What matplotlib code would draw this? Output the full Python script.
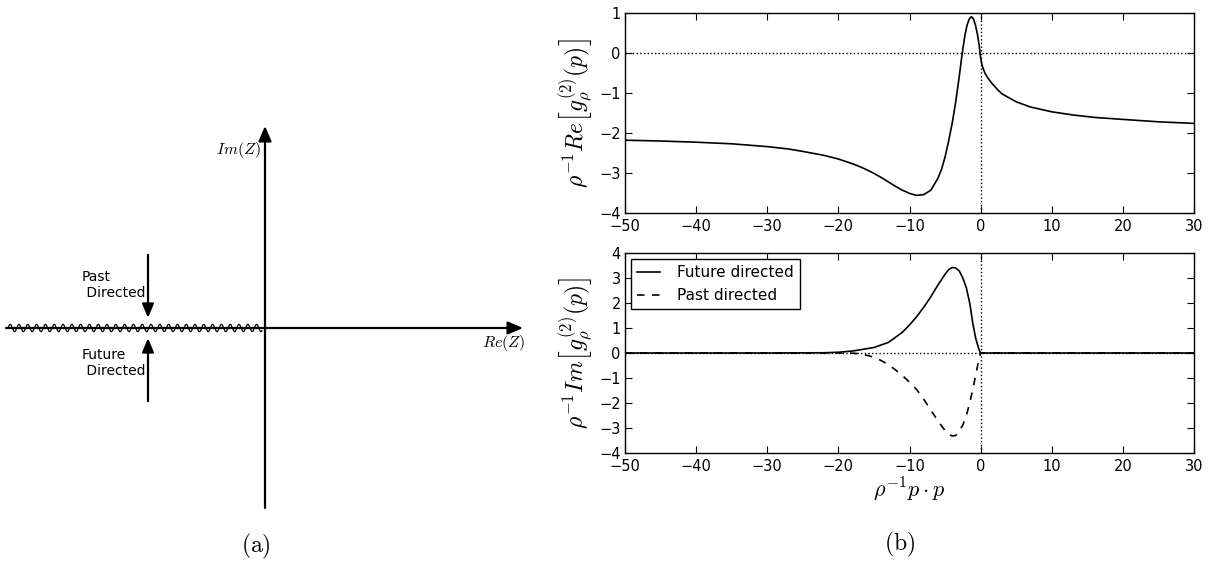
import numpy as np
import matplotlib
matplotlib.use("Agg")
import matplotlib.pyplot as plt

plt.rcParams["mathtext.fontset"] = "cm"
plt.rcParams["font.size"] = 10.5

# rho^-1 Re[g^(2)](p) against rho^-1 p.p
re_x = [-50, -45, -40, -35, -30, -27, -25, -22, -20, -18, -17, -16, -15, -14,
        -13, -12, -11, -10, -9, -8, -7, -6, -5.5, -5, -4.5, -4, -3.5, -3,
        -2.6, -2.2, -1.9, -1.6, -1.3, -1.0, -0.7, -0.4, -0.2, 0, 0.15, 0.3,
        0.6, 1.0, 1.5, 2.4, 3, 4.2, 5, 7, 10, 13, 16, 20, 25, 30]
re_y = [-2.18, -2.20, -2.23, -2.27, -2.34, -2.40, -2.46, -2.56, -2.65, -2.77,
        -2.84, -2.92, -3.01, -3.11, -3.22, -3.33, -3.43, -3.51, -3.56, -3.54,
        -3.43, -3.13, -2.91, -2.60, -2.20, -1.76, -1.22, -0.58, -0.02, 0.45,
        0.70, 0.85, 0.91, 0.85, 0.68, 0.42, 0.18, -0.12, -0.26, -0.36, -0.50,
        -0.62, -0.74, -0.92, -1.02, -1.14, -1.22, -1.35, -1.47, -1.55, -1.61,
        -1.66, -1.72, -1.76]

# rho^-1 Im[g^(2)](p), future directed
fut_x = [-50, -40, -30, -22, -20, -18, -16.9, -15, -14.5, -13, -12.1, -11, -10,
         -9, -8, -7, -6, -5, -4.5, -4, -3.5, -3, -2.5, -2, -1.5, -1.1, -0.7,
         -0.37, -0.15, 0, 10, 20, 30]
fut_y = [0, 0, 0, 0.01, 0.03, 0.08, 0.13, 0.22, 0.27, 0.42, 0.60, 0.83, 1.12,
         1.45, 1.83, 2.25, 2.72, 3.15, 3.33, 3.42, 3.40, 3.28, 3.00, 2.60,
         1.95, 1.19, 0.60, 0.27, 0.08, 0, 0, 0, 0]

# rho^-1 Im[g^(2)](p), past directed
past_x = [-50, -40, -30, -22, -20, -18, -17, -16, -15, -14, -13, -12, -11, -10,
          -9, -8, -7, -6, -5, -4.5, -4, -3.5, -3, -2.5, -2, -1.5, -1, -0.6,
          -0.3, 0, 10, 20, 30]
past_y = [0, 0, 0, 0, 0, -0.01, -0.03, -0.09, -0.17, -0.30, -0.46, -0.67,
          -0.90, -1.17, -1.46, -1.85, -2.28, -2.72, -3.10, -3.25, -3.32, -3.30,
          -3.12, -2.88, -2.50, -1.95, -1.32, -0.75, -0.33, 0, 0, 0, 0]

x_ticks = [-50, -40, -30, -20, -10, 0, 10, 20, 30]
re_ticks = [-4, -3, -2, -1, 0, 1]
im_ticks = [-4, -3, -2, -1, 0, 1, 2, 3, 4]

W, H = 1217, 564
fig = plt.figure(figsize=(W / 100, H / 100), dpi=100)

# --- (a): complex Z plane sketch, drawn in pixel units ---
ax_d = fig.add_axes([0, 0, 1, 1], facecolor="none")
ax_d.set_xlim(0, W)
ax_d.set_ylim(H, 0)
ax_d.axis("off")

ox, oy = 265, 328
arrow_kw = dict(arrowstyle="-|>,head_length=0.65,head_width=0.28", color="k",
                lw=1.6, shrinkA=0, shrinkB=0, mutation_scale=14)
ax_d.annotate("", xy=(523, oy), xytext=(6, oy), arrowprops=arrow_kw)
ax_d.annotate("", xy=(ox, 126), xytext=(ox, 508), arrowprops=arrow_kw)

# branch cut along the negative real axis
wx = np.linspace(8, ox - 3, 1500)
ax_d.plot(wx, oy - 3.6 * np.sin(2 * np.pi * (wx - 8) / 8.8), color="k", lw=0.9)

small_kw = dict(arrowstyle="-|>,head_length=0.6,head_width=0.25", color="k",
                lw=1.6, shrinkA=0, shrinkB=0, mutation_scale=14)
ax_d.annotate("", xy=(148, 318), xytext=(148, 255), arrowprops=small_kw)
ax_d.annotate("", xy=(148, 338), xytext=(148, 401), arrowprops=small_kw)

ax_d.text(82, 270, "Past\n Directed", ha="left", va="top", fontsize=10)
ax_d.text(82, 348, "Future\n Directed", ha="left", va="top", fontsize=10)
ax_d.text(261, 150, r"$Im(Z)$", ha="right", va="center", fontsize=11.5)
ax_d.text(525, 343, r"$Re(Z)$", ha="right", va="center", fontsize=11.5)
ax_d.text(256, 546, r"$\mathrm{(a)}$", ha="center", va="center", fontsize=17)
ax_d.text(900, 544, r"$\mathrm{(b)}$", ha="center", va="center", fontsize=17)

# --- (b): real and imaginary parts ---
left, width, height = 625 / W, 569 / W, 200 / H
ax_re = fig.add_axes([left, 1 - 213 / H, width, height])
ax_im = fig.add_axes([left, 1 - 453 / H, width, height])

ax_re.plot(re_x, re_y, color="k", lw=1.2)
ax_im.plot(fut_x, fut_y, color="k", lw=1.2, label="Future directed")
ax_im.plot(past_x, past_y, color="k", lw=1.2, ls="--", dashes=(4.5, 4.5),
           label="Past directed")

for ax, yt in ((ax_re, re_ticks), (ax_im, im_ticks)):
    ax.axhline(0, color="k", lw=1, ls=":")
    ax.axvline(0, color="k", lw=1, ls=":")
    ax.set_xlim(-50, 30)
    ax.set_ylim(yt[0], yt[-1])
    ax.set_xticks(x_ticks)
    ax.set_yticks(yt)
    ax.tick_params(direction="in", top=True, right=True, length=5, width=0.8,
                   pad=3)
    ax.tick_params(axis="x", pad=4)
    for s in ax.spines.values():
        s.set_linewidth(1.0)

ax_re.set_ylabel(r"$\rho^{-1}Re\left[g_\rho^{(2)}(p)\right]$", fontsize=17,
                 labelpad=2)
ax_im.set_ylabel(r"$\rho^{-1}Im\left[g_\rho^{(2)}(p)\right]$", fontsize=17,
                 labelpad=2)
ax_im.set_xlabel(r"$\rho^{-1}p\cdot p$", fontsize=16, labelpad=1)

leg = ax_im.legend(loc="upper left", fontsize=11, fancybox=False,
                   framealpha=1, edgecolor="k", handlelength=1.5,
                   handletextpad=1.1, borderaxespad=0.4)
leg.get_frame().set_linewidth(1.0)

fig.savefig("out.png", dpi=100)
